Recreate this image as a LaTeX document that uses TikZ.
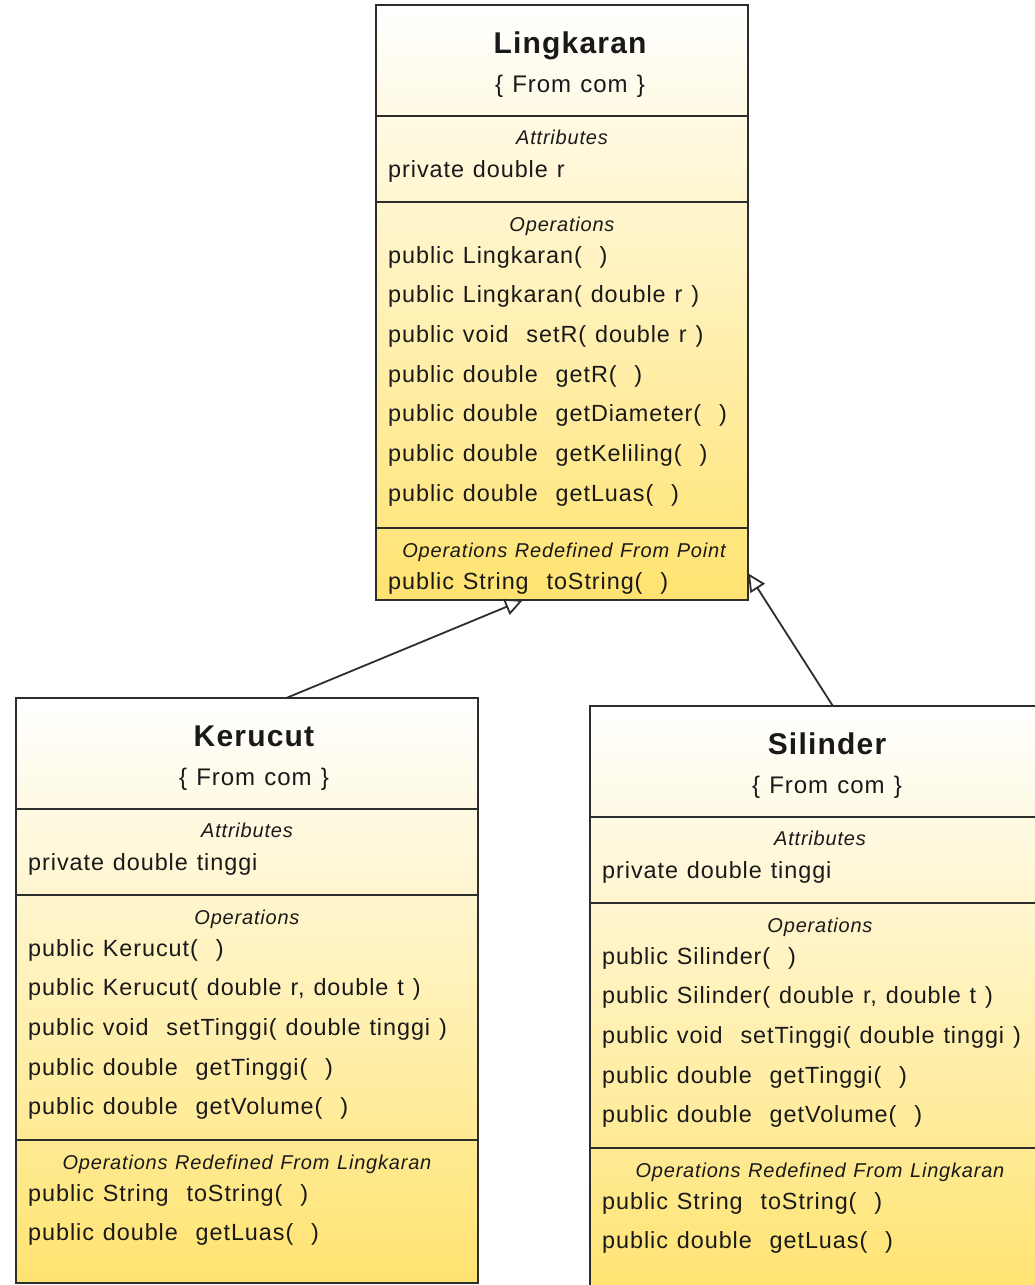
\documentclass[tikz,border=0pt]{standalone}
\usepackage{fontspec}
\setmainfont{Liberation Sans}[WordSpace=1.2, LetterSpace=4]
\usetikzlibrary{arrows.meta,positioning,calc}
\definecolor{umlline}{RGB}{45,45,45}
\definecolor{umlgold}{RGB}{255,227,112}
\definecolor{umltext}{RGB}{25,25,25}

\begin{document}
\begin{tikzpicture}[x=1pt,y=-1pt,
  classbox/.style={draw=umlline, line width=1.8pt, top color=white, bottom color=umlgold,
    anchor=north west, inner sep=0pt, outer sep=0pt},
  clsname/.style={anchor=base, inner sep=0pt, text=umltext, font=\fontsize{30}{30}\selectfont\bfseries},
  pkgname/.style={anchor=base, inner sep=0pt, text=umltext, font=\fontsize{24}{24}\selectfont},
  comptitle/.style={anchor=base, inner sep=0pt, text=umltext, font=\fontsize{20}{20}\selectfont\itshape},
  member/.style={anchor=base west, inner sep=0pt, text=umltext, font=\fontsize{23.4}{23.4}\selectfont},
  divider/.style={draw=umlline, line width=1.8pt},
  inherit/.style={draw=umlline, line width=1.8pt, -{Triangle[open, length=18pt, width=17pt]}}]
      \path[use as bounding box, fill=white] (0,0) rectangle (1034,1285);

      % Lingkaran
      \node[classbox, minimum width=372pt, minimum height=595pt] at (376,5) (lingk) {};
      \draw[divider] ($(lingk.north west)+(0,111)$) -- ($(lingk.north east)+(0,111)$);
      \draw[divider] ($(lingk.north west)+(0,197)$) -- ($(lingk.north east)+(0,197)$);
      \draw[divider] ($(lingk.north west)+(0,523)$) -- ($(lingk.north east)+(0,523)$);
      \node[clsname] at (570,53) (lingkname) {Lingkaran};
      \node[pkgname] at (570,92) (lingkpkg) {\{ From com \}};
      \node[comptitle] at (562,144) (lingkattr) {Attributes};
      \node[member] at (388,177) (lingkr) {private double r};
      \node[comptitle] at (562,231) (lingkops) {Operations};
      \node[member] at (388,263) (lingkop1) {public Lingkaran(\ \ )};
      \node[member] at (388,302.7) (lingkop2) {public Lingkaran( double r )};
      \node[member] at (388,342.3) (lingkop3) {public void\ \ setR( double r )};
      \node[member] at (388,382) (lingkop4) {public double\ \ getR(\ \ )};
      \node[member] at (388,421.7) (lingkop5) {public double\ \ getDiameter(\ \ )};
      \node[member] at (388,461.3) (lingkop6) {public double\ \ getKeliling(\ \ )};
      \node[member] at (388,501) (lingkop7) {public double\ \ getLuas(\ \ )};
      \node[comptitle] at (564,557) (lingkredef) {Operations Redefined From Point};
      \node[member] at (388,589) (lingkts) {public String\ \ toString(\ \ )};

      % Kerucut
      \node[classbox, minimum width=462pt, minimum height=585pt] at (16,698) (ker) {};
      \draw[divider] ($(ker.north west)+(0,111)$) -- ($(ker.north east)+(0,111)$);
      \draw[divider] ($(ker.north west)+(0,197)$) -- ($(ker.north east)+(0,197)$);
      \draw[divider] ($(ker.north west)+(0,442)$) -- ($(ker.north east)+(0,442)$);
      \node[clsname] at (254,746) (kername) {Kerucut};
      \node[pkgname] at (254,785) (kerpkg) {\{ From com \}};
      \node[comptitle] at (247,837) (kerattr) {Attributes};
      \node[member] at (28,870) (kert) {private double tinggi};
      \node[comptitle] at (247,924) (kerops) {Operations};
      \node[member] at (28,956) (kerop1) {public Kerucut(\ \ )};
      \node[member] at (28,995.7) (kerop2) {public Kerucut( double r, double t )};
      \node[member] at (28,1035.3) (kerop3) {public void\ \ setTinggi( double tinggi )};
      \node[member] at (28,1075) (kerop4) {public double\ \ getTinggi(\ \ )};
      \node[member] at (28,1114.7) (kerop5) {public double\ \ getVolume(\ \ )};
      \node[comptitle] at (247,1169) (kerredef) {Operations Redefined From Lingkaran};
      \node[member] at (28,1201) (kerts) {public String\ \ toString(\ \ )};
      \node[member] at (28,1240.7) (kerluas) {public double\ \ getLuas(\ \ )};

      % Silinder
      \node[classbox, minimum width=460pt, minimum height=590pt] at (590,706) (sil) {};
      \draw[divider] ($(sil.north west)+(0,111)$) -- ($(sil.north east)+(0,111)$);
      \draw[divider] ($(sil.north west)+(0,197)$) -- ($(sil.north east)+(0,197)$);
      \draw[divider] ($(sil.north west)+(0,442)$) -- ($(sil.north east)+(0,442)$);
      \node[clsname] at (827,754) (silname) {Silinder};
      \node[pkgname] at (827,793) (silpkg) {\{ From com \}};
      \node[comptitle] at (820,845) (silattr) {Attributes};
      \node[member] at (602,878) (silt) {private double tinggi};
      \node[comptitle] at (820,932) (silops) {Operations};
      \node[member] at (602,964) (silop1) {public Silinder(\ \ )};
      \node[member] at (602,1003.7) (silop2) {public Silinder( double r, double t )};
      \node[member] at (602,1043.3) (silop3) {public void\ \ setTinggi( double tinggi )};
      \node[member] at (602,1083) (silop4) {public double\ \ getTinggi(\ \ )};
      \node[member] at (602,1122.7) (silop5) {public double\ \ getVolume(\ \ )};
      \node[comptitle] at (820,1177) (silredef) {Operations Redefined From Lingkaran};
      \node[member] at (602,1209) (silts) {public String\ \ toString(\ \ )};
      \node[member] at (602,1248.7) (silluas) {public double\ \ getLuas(\ \ )};

      % generalisation
      \draw[inherit] ($(ker.north west)!0.585!(ker.north east)$) -- ($(lingk.south west)!0.395!(lingk.south east)$);
      \draw[inherit] ($(sil.north west)!0.528!(sil.north east)$) -- ($(lingk.north east)!0.955!(lingk.south east)$);
\end{tikzpicture}
\end{document}
